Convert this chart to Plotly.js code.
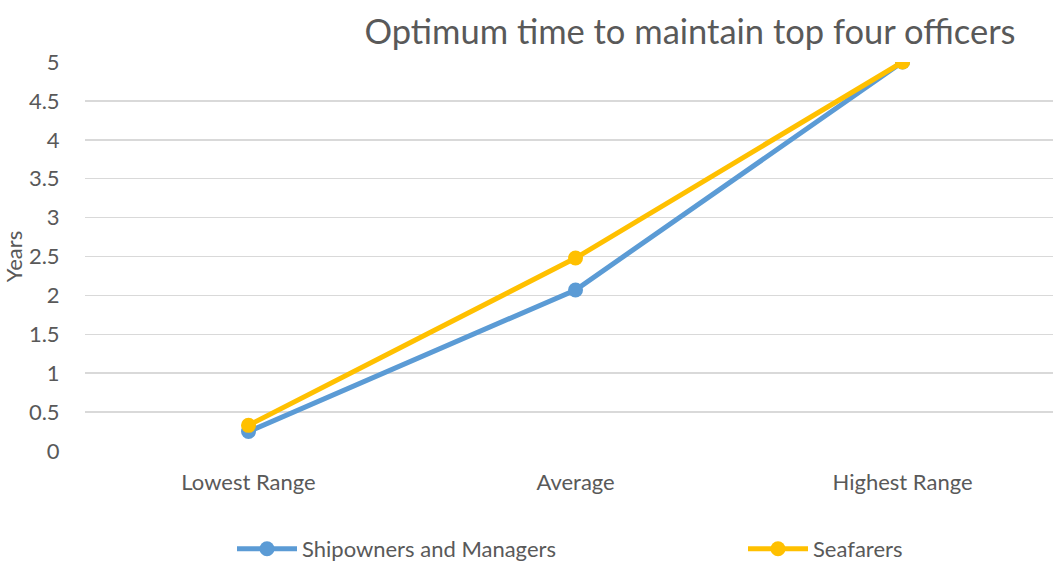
<!DOCTYPE html>
<html><head><meta charset="utf-8">
<script src="https://cdn.plot.ly/plotly-3.0.1.min.js"></script>
<style>html,body{margin:0;padding:0;background:#fff}#c{width:1053px;height:563px}</style>
</head><body><div id="c"></div>
<script>
const categories = ["Lowest Range", "Average", "Highest Range"];
const shipowners = [0.25, 2.07, 5];
const seafarers = [0.33, 2.48, 5];
const yTicks = [0, 0.5, 1, 1.5, 2, 2.5, 3, 3.5, 4, 4.5, 5];
const yTickText = ["0", "0.5", "1", "1.5", "2", "2.5", "3", "3.5", "4", "4.5", "5"];

const font = "Lato, 'Open Sans', sans-serif";
const traces = [
  {x: [0,1,2], y: shipowners, name: "Shipowners and Managers", type: "scatter", mode: "lines+markers",
   line: {color: "#5b9bd5", width: 5}, marker: {color: "#5b9bd5", size: 15}, legend: "legend"},
  {x: [0,1,2], y: seafarers, name: "Seafarers", type: "scatter", mode: "lines+markers",
   line: {color: "#ffc000", width: 5}, marker: {color: "#ffc000", size: 15}, legend: "legend2"}
];
const legendBase = {orientation: "h", xref: "container", yref: "container", xanchor: "left",
  y: 1 - 549/563, yanchor: "middle", font: {family: font, size: 22, color: "#595959"}, itemwidth: 60};
const layout = {
  width: 1053, height: 563,
  margin: {l: 85, r: 0, t: 62, b: 112},
  paper_bgcolor: "#fff", plot_bgcolor: "#fff",
  font: {family: font, color: "#595959", size: 22},
  title: {text: "Optimum time to maintain top four officers", x: (690 - 85) / 968, xanchor: "center", xref: "paper",
          y: 1 - 32/563, yanchor: "middle", yref: "container",
          font: {family: font, size: 34.5, color: "#595959"}},
  xaxis: {range: [-0.5, 2.46], tickvals: [0,1,2], ticktext: categories, showgrid: false, zeroline: false,
          showline: false, ticks: "outside", ticklen: 12, tickcolor: "rgba(0,0,0,0)", fixedrange: true,
          automargin: false},
  yaxis: {range: [0, 5], tickvals: yTicks, ticktext: yTickText, gridcolor: "#d9d9d9", gridwidth: 1.5,
          zeroline: false, showline: false, ticks: "outside", ticklen: 20, tickcolor: "rgba(0,0,0,0)",
          automargin: false,
          title: {text: "Years", standoff: 2, font: {family: font, size: 22, color: "#595959"}}},
  showlegend: true,
  legend: Object.assign({}, legendBase, {x: 232/1053}),
  legend2: Object.assign({}, legendBase, {x: 743/1053})
};
Plotly.newPlot("c", traces, layout, {displayModeBar: false, staticPlot: true});
</script></body></html>
